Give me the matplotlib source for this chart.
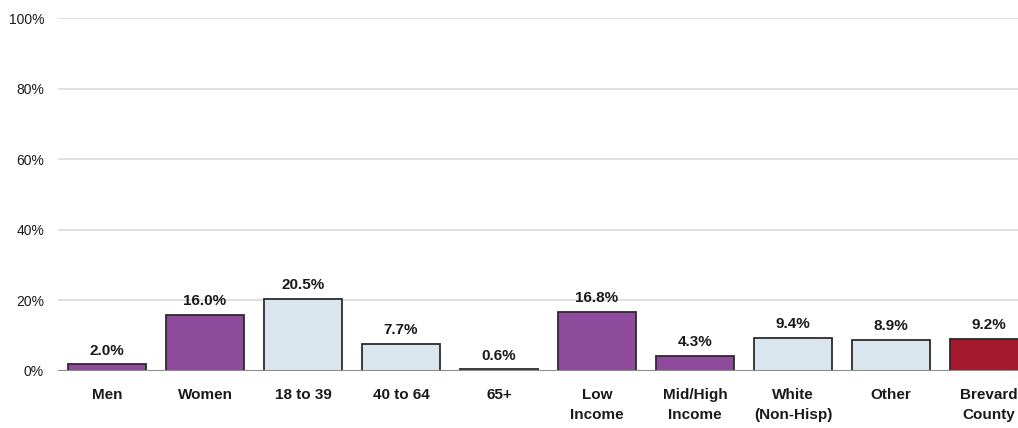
import matplotlib.pyplot as plt

categories = ['Men', 'Women', '18 to 39', '40 to 64', '65+', 'Low\nIncome',
              'Mid/High\nIncome', 'White\n(Non-Hisp)', 'Other', 'Brevard\nCounty']
values = [2.0, 16.0, 20.5, 7.7, 0.6, 16.8, 4.3, 9.4, 8.9, 9.2]
groups = ['p', 'p', 'b', 'b', 'b', 'p', 'p', 'b', 'b', 'r']
yticks = [0, 20, 40, 60, 80, 100]

purple = '#8E4B9B'
lightblue = '#DAE6ED'
red = '#A5192E'
cmap = {'p': purple, 'b': lightblue, 'r': red}

plt.rcParams['font.family'] = ['Liberation Sans', 'DejaVu Sans']

fig = plt.figure(figsize=(10.18, 4.28), dpi=100)
ax = fig.add_axes([58 / 1018, 57 / 428, 980 / 1018, 353 / 428])

x = list(range(len(categories)))
ax.bar(x, values, width=0.8, color=[cmap[g] for g in groups],
       edgecolor='#2b2b2b', linewidth=1.3, zorder=3)

for xi, v in zip(x, values):
    ax.text(xi, v + 1.8, '%.1f%%' % v, ha='center', va='bottom',
            fontsize=11, fontweight='bold', color='#1a1a1a')

ax.set_xlim(-0.5, 9.5)
ax.set_ylim(0, 100)
ax.set_yticks(yticks)
ax.set_yticklabels(['%d%%' % t for t in yticks], fontsize=10, color='#1a1a1a')
ax.set_xticks(x)
ax.set_xticklabels(categories, fontsize=11, fontweight='bold', color='#1a1a1a',
                   linespacing=1.55)
ax.tick_params(axis='both', length=0)
ax.tick_params(axis='x', pad=12)
ax.tick_params(axis='y', pad=10)

for t in yticks[1:]:
    ax.axhline(t, color='#d9d9d9', linewidth=1.2, zorder=1)
ax.axhline(0, color='#8c8c8c', linewidth=1.5, zorder=4)

for s in ax.spines.values():
    s.set_visible(False)

fig.savefig('out.png', dpi=100)
